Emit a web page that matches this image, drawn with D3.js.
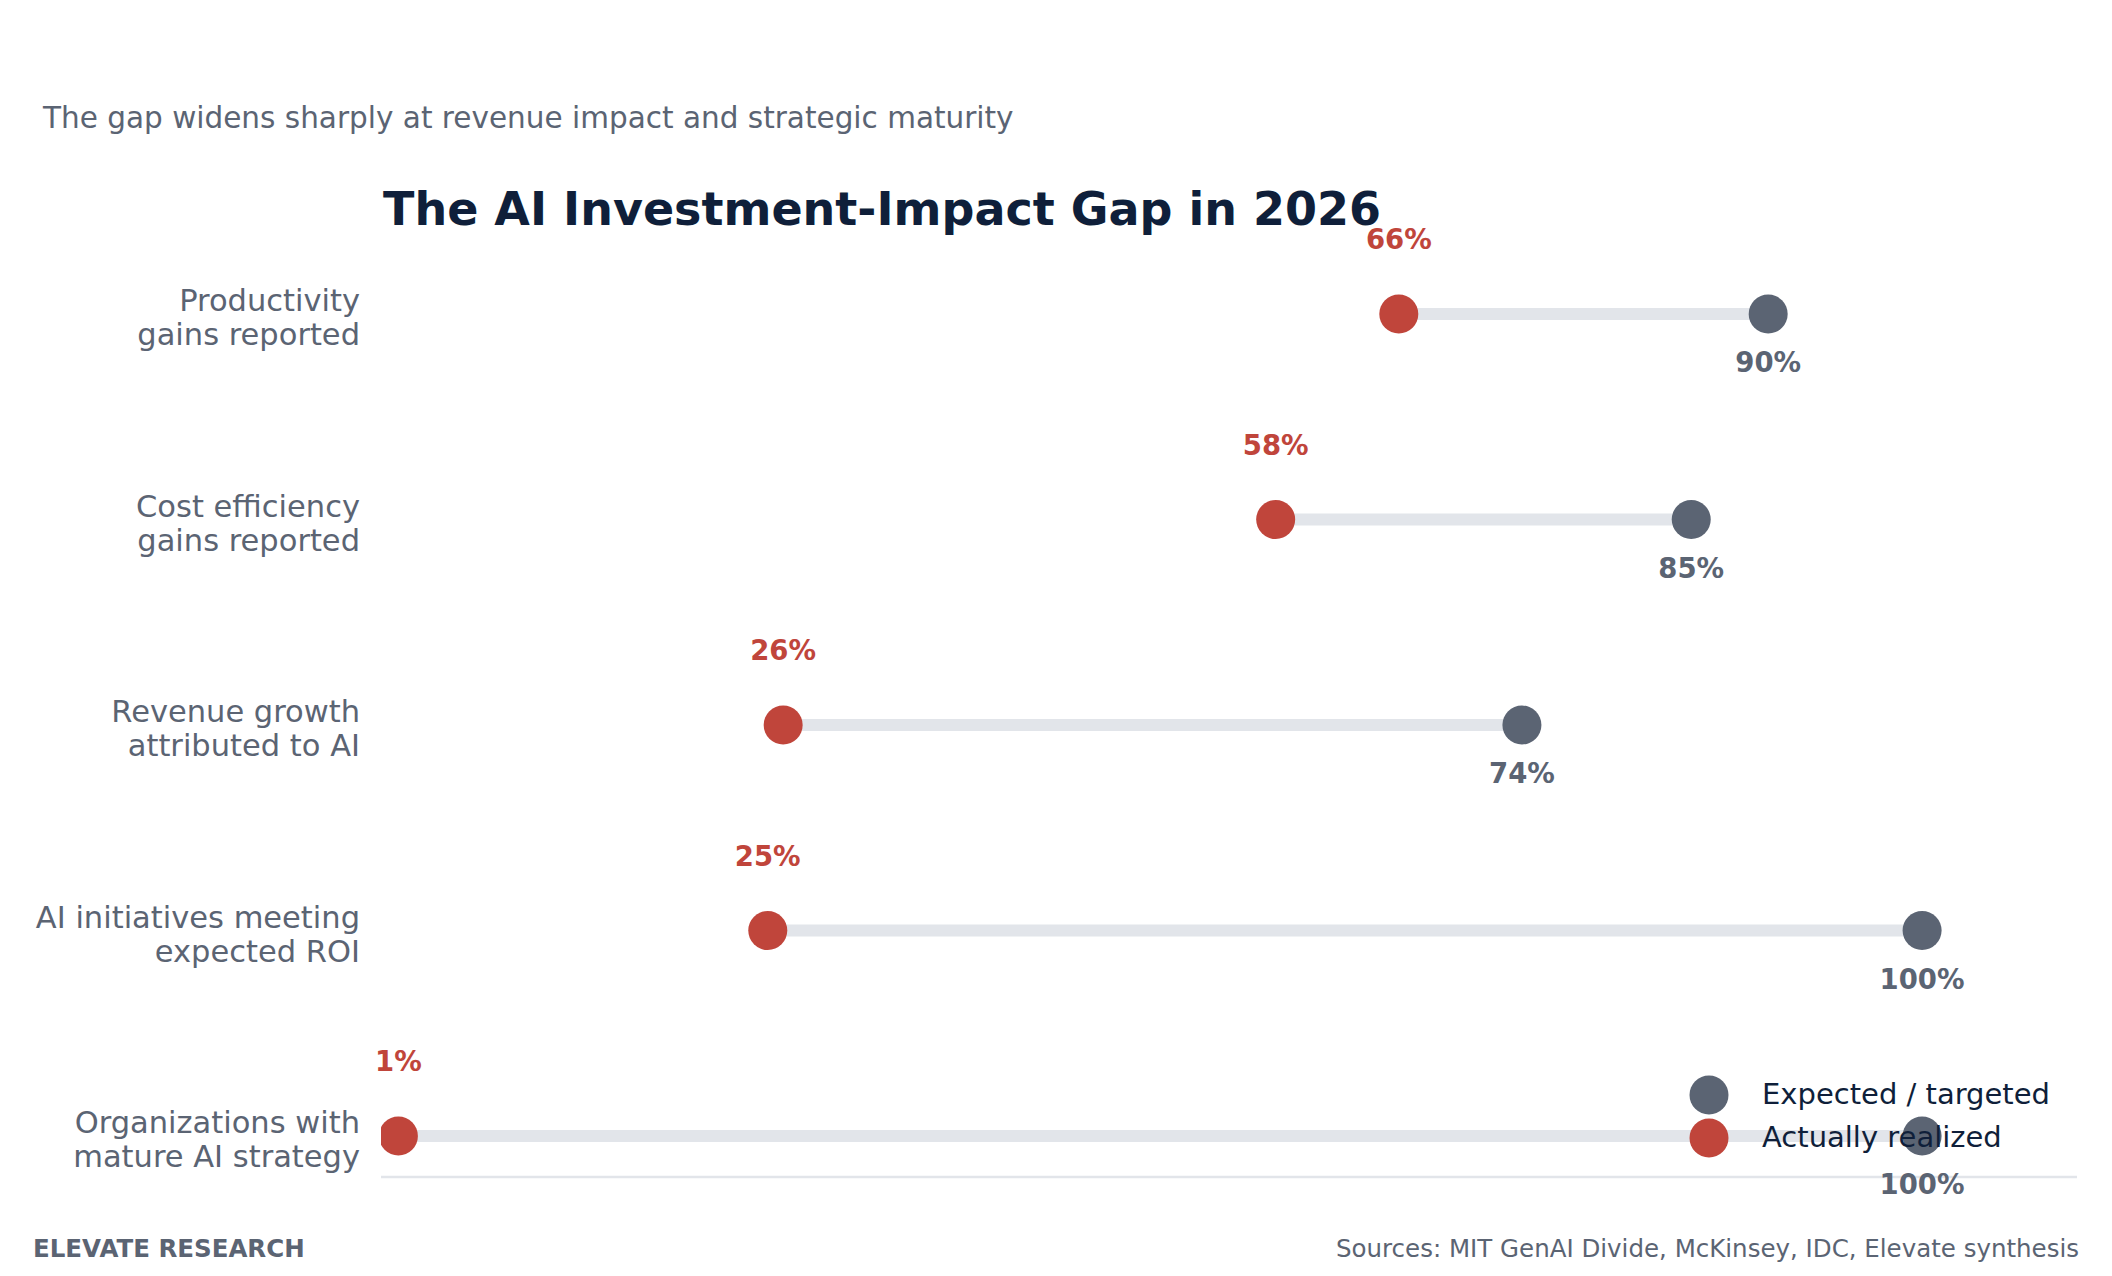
<!DOCTYPE html>
<html>
<head>
<meta charset="utf-8">
<script src="https://cdn.jsdelivr.net/npm/d3@7"></script>
<style>
  html, body { margin: 0; padding: 0; background: #fff; }
  svg { display: block; font-family: "DejaVu Sans", sans-serif; }
</style>
</head>
<body>
<div id="chart"></div>
<script>
"use strict"

// Data
const categories = [
  "Productivity\ngains reported",
  "Cost efficiency\ngains reported",
  "Revenue growth\nattributed to AI",
  "AI initiatives meeting\nexpected ROI",
  "Organizations with\nmature AI strategy"
];
const expected = [90, 85, 74, 100, 100];
const realized = [66, 58, 26, 25, 1];
const seriesNames = ["Expected / targeted", "Actually realized"];

const W = 2112, H = 1276;
const RED = "#c0453b", GRAY = "#5b6473", NAVY = "#0f1f3a", LINE = "#e2e5ea";

const rows = categories.map((c, i) => ({
  name: c, expected: expected[i], realized: realized[i]
}));

let svg = d3.select("#chart")
  .append("svg")
    .attr("width", W)
    .attr("height", H);

let x = d3.scaleLinear().domain([0, 110]).range([383, 2076]);
let y = d3.scalePoint().domain(categories).range([314, 1136]);

// Subtitle and title
svg.append("text")
  .attr("x", 43).attr("y", 128)
  .attr("style", `font-size: 29.5px; fill: ${GRAY}`)
  .text("The gap widens sharply at revenue impact and strategic maturity");

svg.append("text")
  .attr("x", 383).attr("y", 225)
  .attr("style", `font-size: 46px; font-weight: bold; fill: ${NAVY}`)
  .text("The AI Investment-Impact Gap in 2026");

// Clip for plot area
svg.append("defs").append("clipPath").attr("id", "plot-clip")
  .append("rect")
    .attr("x", 381).attr("y", 0)
    .attr("width", 2077 - 381).attr("height", 1177);

// Bottom axis line
svg.append("line")
  .attr("x1", 381).attr("x2", 2077)
  .attr("y1", 1177).attr("y2", 1177)
  .attr("stroke", LINE).attr("stroke-width", 2.5);

let plot = svg.append("g").attr("clip-path", "url(#plot-clip)");

// Connectors
plot.selectAll(".conn")
  .data(rows)
  .enter()
    .append("line")
      .attr("class", "conn")
      .attr("x1", (d) => x(d.realized))
      .attr("x2", (d) => x(d.expected))
      .attr("y1", (d) => y(d.name))
      .attr("y2", (d) => y(d.name))
      .attr("stroke", LINE)
      .attr("stroke-width", 12);

// Expected dots
plot.selectAll(".exp")
  .data(rows)
  .enter()
    .append("circle")
      .attr("class", "exp")
      .attr("cx", (d) => x(d.expected))
      .attr("cy", (d) => y(d.name))
      .attr("r", 19.5)
      .attr("fill", GRAY);

// Realized dots
plot.selectAll(".real")
  .data(rows)
  .enter()
    .append("circle")
      .attr("class", "real")
      .attr("cx", (d) => x(d.realized))
      .attr("cy", (d) => y(d.name))
      .attr("r", 19.5)
      .attr("fill", RED);

// Value labels
svg.selectAll(".lab-real")
  .data(rows)
  .enter()
    .append("text")
      .attr("text-anchor", "middle")
      .attr("x", (d) => x(d.realized))
      .attr("y", (d) => y(d.name) - 65)
      .attr("style", `font-size: 27.5px; font-weight: bold; fill: ${RED}`)
      .text((d) => `${d.realized}%`);

svg.selectAll(".lab-exp")
  .data(rows)
  .enter()
    .append("text")
      .attr("text-anchor", "middle")
      .attr("x", (d) => x(d.expected))
      .attr("y", (d) => y(d.name) + 58)
      .attr("style", `font-size: 27.5px; font-weight: bold; fill: ${GRAY}`)
      .text((d) => `${d.expected}%`);

// Category labels (two lines each)
let cat = svg.selectAll(".cat")
  .data(rows)
  .enter()
    .append("text")
      .attr("text-anchor", "end")
      .attr("style", `font-size: 30.5px; fill: ${GRAY}`);

cat.selectAll("tspan")
  .data((d) => d.name.split("\n").map((t) => ({t: t, row: d.name})))
  .enter()
    .append("tspan")
      .attr("x", 360)
      .attr("y", (d, i) => y(d.row) - 3 + i * 34)
      .text((d) => d.t);

// Legend
let legend = svg.append("g").attr("transform", "translate(1709, 1095)");
legend.selectAll("circle")
  .data(seriesNames)
  .enter()
    .append("circle")
      .attr("cx", 0)
      .attr("cy", (d, i) => i * 43)
      .attr("r", 19.5)
      .attr("fill", (d, i) => i == 0 ? GRAY : RED);
legend.selectAll("text")
  .data(seriesNames)
  .enter()
    .append("text")
      .attr("x", 53)
      .attr("y", (d, i) => i * 43 + 9)
      .attr("style", `font-size: 29px; fill: ${NAVY}`)
      .text((d) => d);

// Footer
svg.append("text")
  .attr("x", 33).attr("y", 1257)
  .attr("style", `font-size: 24.5px; font-weight: bold; fill: ${GRAY}`)
  .text("ELEVATE RESEARCH");

svg.append("text")
  .attr("x", 2079).attr("y", 1257)
  .attr("text-anchor", "end")
  .attr("style", `font-size: 24.5px; fill: ${GRAY}`)
  .text("Sources: MIT GenAI Divide, McKinsey, IDC, Elevate synthesis");
</script>
</body>
</html>
